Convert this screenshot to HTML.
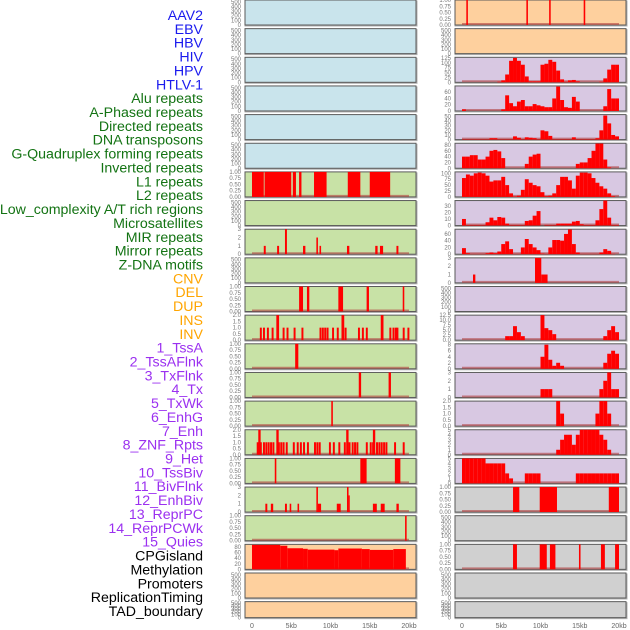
<!DOCTYPE html>
<html><head><meta charset="utf-8"><style>
html,body{margin:0;padding:0;background:#fff;}
svg{display:block;font-family:"Liberation Sans",sans-serif;}
</style></head><body>
<svg id="chart" width="630" height="630" viewBox="0 0 630 630" xmlns="http://www.w3.org/2000/svg"></svg>
<script>
// ---- categories / labels ----
const trackLabels = ["AAV2","EBV","HBV","HIV","HPV","HTLV-1","Alu repeats","A-Phased repeats","Directed repeats","DNA transposons","G-Quadruplex forming repeats","Inverted repeats","L1 repeats","L2 repeats","Low_complexity A/T rich regions","Microsatellites","MIR repeats","Mirror repeats","Z-DNA motifs","CNV","DEL","DUP","INS","INV","1_TssA","2_TssAFlnk","3_TxFlnk","4_Tx","5_TxWk","6_EnhG","7_Enh","8_ZNF_Rpts","9_Het","10_TssBiv","11_BivFlnk","12_EnhBiv","13_ReprPC","14_ReprPCWk","15_Quies","CPGisland","Methylation","Promoters","ReplicationTiming","TAD_boundary"];
const labelGroups = [6,13,5,15,5];
const xTickVals = [0,5,10,15,20];
const xTickLabels = ["0","5kb","10kb","15kb","20kb"];

// ---- tick label sets ----
const tEmpty = [0,100,200,300,400,500];
const tUnit = [0,0.25,0.5,0.75,1];
const tUnitLab = ["0.00","0.25","0.50","0.75","1.00"];

// ---- left column segments [startKb,endKb,value] ----
const l1Segs = [[0,1.5,1],[1.6,5.0,1],[5.2,5.6,1],[6.0,6.3,1],[7.9,9.5,1],[12.2,13.8,1],[15.0,17.6,1]];
const mirSegs = [[1.5,1.75,1],[3.2,3.45,1],[4.2,4.45,3],[6.5,6.8,1],[8.2,8.4,2],[8.6,8.8,1],[12.1,12.4,1],[15.7,16.0,1],[16.3,16.7,1],[18.4,18.65,1]];
const delSegs = [[6.0,6.5,1],[7.0,7.3,1],[11.0,11.6,1],[14.6,14.9,1],[19.2,19.4,1]];
const insOnes = [1.0,1.4,1.9,2.5,3.9,4.4,5.3,6.3,8.6,8.9,9.2,9.5,10.2,10.8,11.8,13.5,14.0,14.5,17.5,17.9,18.2,18.4,19.2,19.8];
const insTwos = [3.1,11.4,16.4];
const tssaSegs = [[5.5,5.9,1]];
const txflnkSegs = [[13.6,13.9,1],[17.4,17.7,1]];
const txSegs = [[10.1,10.3,1]];
const znfOnes = [0.6,1.0,1.4,1.7,2.0,2.3,2.6,3.3,3.6,3.9,4.3,5.2,5.7,6.1,6.5,7.0,7.9,8.2,8.5,9.8,10.3,11.0,11.7,12.3,12.7,13.0,13.3,14.5,15.0,15.3,15.8,16.1,16.4,16.7,17.0,18.1,19.2];
const znfTwos = [0.8,3.1,12.0,15.4];
const hetSegs = [[2.9,3.1,1],[13.8,14.6,1],[18.2,18.9,1]];
const bivflnkSegs = [[1.7,1.95,1],[2.4,2.7,1],[4.2,4.45,1],[4.8,5.0,1],[5.8,6.0,1],[8.2,8.4,3],[8.4,8.8,1],[10.8,11.3,1],[12.1,12.3,3],[12.3,12.4,2],[15.4,15.9,1],[16.4,16.9,1],[18.4,18.7,1]];
const reprSegs = [[19.5,19.7,1]];
const cpgSegs = [[0,3.6,88],[3.6,4.5,85],[4.5,6.5,76],[6.5,7.1,74],[7.1,10.5,71],[10.5,11.0,69],[11.0,14.0,75],[14.0,15.0,73],[15.0,18.0,70],[18.0,19.6,73]];

// ---- right column: 0.5kb bins ----
const aavSegs = [[0.55,0.75,1],[8.2,8.4,1],[11.1,11.3,1],[15.5,15.7,1]];
const hivBins = [0,0,0,0,0,0,0,0,0,3,10,40,110,125,110,90,30,5,5,5,90,95,115,105,60,15,3,10,12,5,0,0,0,0,0,3,20,65,90,90];
const aluBins = [5,0,0,0,0,0,0,0,0,0,5,50,25,15,30,35,15,15,22,18,15,12,12,40,78,35,12,10,45,30,0,0,0,0,0,0,15,70,40,40];
const aphBins = [1,1,1,1,1,1,1,3,3,1,1,1,1,7,4,1,5,4,3,1,20,18,8,1,1,1,1,1,5,1,1,1,1,1,3,20,52,35,10,7];
const dirBins = [40,40,45,45,30,30,40,60,63,58,35,0,0,0,0,0,15,40,47,50,0,0,0,0,0,0,0,0,0,15,20,20,35,60,85,85,30,3,0,0];
const dnaBins = [80,95,90,100,103,100,90,65,70,70,85,50,15,2,5,30,75,60,50,45,20,3,5,15,50,85,85,70,35,90,103,103,100,80,60,45,35,15,3,0];
const g4Bins = [10,1,1,1,1,1,5,12,8,13,12,3,1,1,1,1,7,8,15,22,0,1,1,1,3,3,3,3,6,7,2,1,1,1,8,25,38,12,1,1];
const invBins = [18,3,1,1,1,1,3,5,3,8,30,38,15,1,1,20,45,30,20,12,2,1,20,42,42,40,60,73,30,5,1,1,1,1,1,5,15,10,1,0];
const zdnaSegs = [[1.4,1.7,1],[9.3,10.1,3],[10.1,10.9,1]];
const insRBins = [0,0,0,0,0,0,0,0,0,0,0,2,2,7,4,2,0,0,0,0,12.5,6,5,3,0,0,0,0,0,0,0,0,0,0,0,0,2,5,7,4];
const tssaBins = [0,0,0,0,0,0,0,0,0,0,0,0,0,0,0,0,0,0,0,0,4,8,3,1,2,1,0,0,0,0,0,0,0,0,0,0,2,5,6,5];
const tssaflnkBins = [0,0,0,0,0,0,0,0,0,0,0,0,0,0,0,0,0,0,0,0,1,1,1,0,0,0,0,0,0,0,0,0,0,0,0,1,2,3,1,1];
const txflnkRBins = [0,0,0,0,0,0,0,0,0,0,0,0,0,0,0,0,0,0,0,0,0,0,0,0,2,1,0,0,0,0,0,0,0,0,1,2,2,1,0,0];
const txRBins = [0,0,0,0,0,0,0,0,0,0,0,0,0,0,0,0,0,0,0,0,0,0,0,0,1,3,4,4,2,4,5,5,5,5,5,4,3,1,0,0];
const txwkBins = [5,5,5,5,5,5,4,4,4,4,4,2,1,0,0,0,2,2,2,2,0,0,0,0,0,0,0,0,0,2,2,2,2,2,2,2,2,2,2,2];
const enhgSegs = [[6.5,7.3,1],[9.9,12.1,1],[18.7,20.0,1]];
const enhRSegs = [[6.5,7.0,1],[9.9,10.8,1],[11.2,11.9,1],[14.9,15.1,1],[17.7,18.2,1],[19.5,20.0,1]];

// ---- colours ----
const BLUE="#c9e4ec", GREEN="#c8e2a6", ORANGE="#fed09e", PURPLE="#d8c8e2", GREY="#d0d0d0";

const leftPanels = [
 [BLUE,540,tEmpty,null,null,null],[BLUE,540,tEmpty,null,null,null],[BLUE,540,tEmpty,null,null,null],
 [BLUE,540,tEmpty,null,null,null],[BLUE,540,tEmpty,null,null,null],[BLUE,540,tEmpty,null,null,null],
 [GREEN,1,tUnit,tUnitLab,l1Segs,null],[GREEN,540,tEmpty,null,null,null],
 [GREEN,3,[0,1,2,3],null,mirSegs,null],[GREEN,540,tEmpty,null,null,null],
 [GREEN,1,tUnit,tUnitLab,delSegs,null],
 [GREEN,2,[0,0.5,1,1.5,2],["0.0","0.5","1.0","1.5","2.0"],"ins",null],
 [GREEN,1,tUnit,tUnitLab,tssaSegs,null],[GREEN,1,tUnit,tUnitLab,txflnkSegs,null],
 [GREEN,1,tUnit,tUnitLab,txSegs,null],
 [GREEN,2,[0,0.5,1,1.5,2],["0.0","0.5","1.0","1.5","2.0"],"znf",null],
 [GREEN,1,tUnit,tUnitLab,hetSegs,null],[GREEN,3,[0,1,2,3],null,bivflnkSegs,null],
 [GREEN,1,tUnit,tUnitLab,reprSegs,null],[ORANGE,90,[0,20,40,60,80],null,cpgSegs,null],
 [ORANGE,540,tEmpty,null,null,null],[ORANGE,540,tEmpty,null,null,null]
];
const rightPanels = [
 [ORANGE,1,tUnit,tUnitLab,aavSegs,null],[ORANGE,540,tEmpty,null,null,null],
 [PURPLE,128,[0,25,50,75,100,125],null,null,hivBins],
 [PURPLE,80,[0,20,40,60],null,null,aluBins],
 [PURPLE,54,[0,10,20,30,40,50],null,null,aphBins],
 [PURPLE,86,[0,20,40,60,80],null,null,dirBins],
 [PURPLE,106,[0,25,50,75,100],null,null,dnaBins],
 [PURPLE,38,[0,10,20,30],null,null,g4Bins],
 [PURPLE,74,[0,20,40,60],null,null,invBins],
 [PURPLE,3,[0,1,2,3],null,zdnaSegs,null],
 [PURPLE,540,tEmpty,null,null,null],
 [PURPLE,12.5,[0,2.5,5,7.5,10,12.5],["0.0","2.5","5.0","7.5","10.0","12.5"],null,insRBins],
 [PURPLE,8.3,[0,2,4,6,8],null,null,tssaBins],
 [PURPLE,3,[0,1,2,3],null,null,tssaflnkBins],
 [PURPLE,2,[0,0.5,1,1.5,2],["0.0","0.5","1.0","1.5","2.0"],null,txflnkRBins],
 [PURPLE,5,[0,1,2,3,4,5],null,null,txRBins],
 [PURPLE,5,[0,1,2,3,4,5],null,null,txwkBins],
 [GREY,1,tUnit,tUnitLab,enhgSegs,null],[GREY,540,tEmpty,null,null,null],
 [GREY,1,tUnit,tUnitLab,enhRSegs,null],[GREY,540,tEmpty,null,null,null],[GREY,540,tEmpty,null,null,null]
];

const NS="http://www.w3.org/2000/svg";
const svg=document.getElementById('chart');
function mk(tag,attrs,parent){const e=document.createElementNS(NS,tag);for(const k in attrs)e.setAttribute(k,attrs[k]);(parent||svg).appendChild(e);return e;}

const groupColors=["#1a1aee","#137313","#ffa500","#9b30f0","#000000"];
let li=0;
labelGroups.forEach((n,g)=>{for(let k=0;k<n;k++){const t=mk('text',{x:203,y:20+13.86*li,'text-anchor':'end','font-size':14.2,fill:groupColors[g]});t.textContent=trackLabels[li];

li++;}});

function panelTop(r){return 28.65*r;}
function panelH(r){return r===21?16:25;}

function drawPanel(spec,r,x0,x1,col){
  const [bg,ymax,ticks,tlab,segs,bins]=spec;
  const top=panelTop(r),h=panelH(r),bot=top+h;
  const g=mk('g',{});
  
  
  mk('rect',{x:x0-0.5,y:top+0.5,width:x1-x0+2,height:h+1,fill:'#b0b0b0'},g);
  mk('rect',{x:x0,y:top,width:x1-x0,height:h,fill:bg,stroke:'#5a5a5a','stroke-width':1},g);
  const sx=kb=>x0+7+(kb/20)*(x1-x0-14);
  const sy=v=>bot-(Math.min(v,ymax)/ymax)*h;
  const hasData=segs||bins;
  if(hasData){const b=mk('line',{x1:sx(0),x2:sx(20),y1:bot-1,y2:bot-1,stroke:'#b04040','stroke-width':2,'stroke-opacity':0.6},g);
    
    }
  let list=[];
  if(segs==="ins"){insOnes.forEach(s=>list.push([s,s+0.25,1]));insTwos.forEach(s=>list.push([s,s+0.35,2]));}
  else if(segs==="znf"){znfOnes.forEach(s=>list.push([s,s+0.25,1]));znfTwos.forEach(s=>list.push([s,s+0.3,2]));}
  else if(segs){list=segs;}
  if(bins){bins.forEach((v,i)=>{if(v>0)list.push([i*0.5,i*0.5+0.5,v]);});}
  list.forEach(([a,b2,v])=>{
    const rc=mk('rect',{x:sx(a),y:sy(v),width:Math.max(1.2,sx(b2)-sx(a)),height:bot-sy(v),fill:'#ff0000'},g);
    
    
  });
  ticks.forEach((t,i)=>{
    const tx=mk('text',{x:x0-4,y:sy(t)+2,'text-anchor':'end','font-size':6,fill:'#777'},g);
    tx.textContent=tlab?tlab[i]:String(t);
    
    
  });
}
leftPanels.forEach((s,r)=>drawPanel(s,r,245,416,'left'));
rightPanels.forEach((s,r)=>drawPanel(s,r,455,626,'right'));

[[245,416],[455,626]].forEach(([x0,x1])=>{
  xTickVals.forEach((v,i)=>{
    const x=x0+7+(v/20)*(x1-x0-14);
    const t=mk('text',{x:x,y:628,'text-anchor':'middle','font-size':7,fill:'#666'});
    t.textContent=xTickLabels[i];
    
    
  });
});
</script>
</body></html>
